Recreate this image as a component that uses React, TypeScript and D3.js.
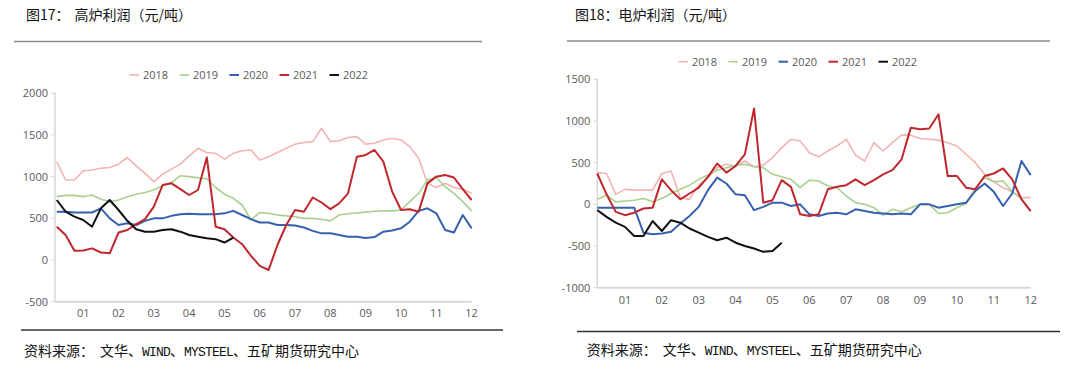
import React from 'react'
import * as d3 from 'd3'

// weekly-ish sampling positions, in months (0.25 = first week of Jan)
const months = d3.range(1, 49).map(i => i / 4)
const monthLabels = ['01', '02', '03', '04', '05', '06', '07', '08', '09', '10', '11', '12']
const years = ['2018', '2019', '2020', '2021', '2022']

// 图17 高炉利润 (元/吨)
const bf2018 = [1180, 960, 960, 1070, 1080, 1100, 1110, 1150, 1230, 1130, 1040, 940, 1030, 1090, 1150, 1250, 1340, 1290, 1280, 1210, 1280, 1310, 1320, 1200, 1240, 1290, 1340, 1390, 1410, 1420, 1580, 1420, 1430, 1470, 1480, 1390, 1400, 1440, 1460, 1440, 1360, 1220, 920, 870, 920, 870, 850, 800]
const bf2019 = [760, 775, 775, 760, 780, 730, 700, 720, 760, 790, 810, 840, 890, 930, 1010, 1000, 985, 975, 870, 790, 740, 660, 480, 570, 560, 540, 530, 520, 500, 500, 490, 470, 540, 555, 565, 575, 585, 590, 590, 600, 700, 800, 960, 990, 880, 800, 700, 590]
const bf2020 = [580, 580, 570, 570, 570, 620, 500, 420, 440, 420, 470, 500, 500, 530, 550, 555, 550, 550, 550, 560, 590, 540, 490, 450, 450, 420, 420, 415, 390, 350, 320, 320, 300, 280, 280, 265, 275, 340, 355, 380, 460, 590, 620, 560, 360, 330, 540, 380]
const bf2021 = [400, 300, 110, 115, 140, 90, 80, 330, 360, 430, 490, 640, 900, 920, 850, 780, 840, 1230, 400, 370, 270, 190, 50, -70, -120, 180, 420, 600, 580, 750, 690, 610, 680, 800, 1240, 1260, 1320, 1180, 820, 600, 610, 580, 920, 1000, 1020, 990, 850, 720]
const bf2022 = [720, 580, 520, 480, 400, 620, 720, 600, 470, 370, 340, 340, 360, 370, 340, 300, 280, 260, 250, 210, 270]

// 图18 电炉利润 (元/吨)
const eaf2018 = [380, 370, 120, 180, 170, 170, 170, 370, 400, 80, 60, 230, 320, 440, 480, 460, 520, 450, 470, 560, 680, 780, 760, 620, 570, 640, 700, 780, 590, 520, 740, 640, 740, 830, 830, 790, 780, 770, 740, 700, 600, 500, 360, 270, 200, 150, 80, 80]
const eaf2019 = [60, 110, 30, 40, 50, 70, 30, 70, 130, 180, 230, 300, 350, 410, 440, 470, 480, 450, 440, 360, 330, 300, 200, 290, 280, 220, 200, 100, 20, 0, -40, -130, -60, -90, -40, 0, 0, -110, -100, -40, 10, 200, 320, 270, 280, 150, 70, -80]
const eaf2020 = [-40, -40, -40, -40, -40, -340, -360, -350, -330, -230, -140, -30, 170, 320, 250, 120, 110, -70, -30, 20, 20, -20, 0, -120, -140, -110, -100, -120, -60, -80, -100, -110, -120, -110, -120, 0, 0, -40, -20, 0, 20, 160, 250, 150, -20, 130, 520, 350]
const eaf2021 = [370, 120, -90, -130, -100, -50, -40, 300, 170, 60, 130, 200, 330, 490, 380, 460, 600, 1150, 20, 50, 290, 210, -120, -140, -120, 180, 210, 230, 300, 230, 290, 360, 410, 540, 920, 900, 910, 1080, 340, 340, 200, 180, 340, 370, 430, 300, 60, -80]
const eaf2022 = [-70, -150, -220, -270, -380, -380, -200, -320, -190, -220, -290, -340, -390, -430, -400, -460, -500, -530, -570, -560, -460]

const colors = ['#f4b3b3', '#a9d18e', '#3561ad', '#c0272d', '#111111']
const widths = [1.6, 1.6, 2, 2, 2]

const cjk = '"Noto Sans CJK SC", sans-serif'
const num = '"Open Sans", sans-serif'
const mono = '"Liberation Mono", monospace'

const panels = [
  {
    title: '图17：',
    titleRest: '高炉利润（元/吨）',
    titleX: 26,
    restDx: 5,
    topRule: [14, 482, 41.5],
    footRule: [21, 503, 330],
    footX: 24,
    footY: 356,
    tStart: 0.2,
    left: 55,
    right: 471.6,
    top: 93.3,
    bottom: 301.7,
    yDomain: [-500, 2000],
    yTicks: [-500, 0, 500, 1000, 1500, 2000],
    labelY: 317,
    legendX: 129.5,
    legendY: 75,
    series: [bf2018, bf2019, bf2020, bf2021, bf2022],
  },
  {
    title: '图18：',
    titleRest: '电炉利润（元/吨）',
    titleX: 575,
    restDx: 0,
    topRule: [567, 1050, 41],
    footRule: [577, 1060, 331.5],
    footX: 586.7,
    footY: 355,
    tStart: 0.25,
    left: 597.3,
    right: 1030.7,
    top: 79.3,
    bottom: 287.7,
    yDomain: [-1000, 1500],
    yTicks: [-1000, -500, 0, 500, 1000, 1500],
    labelY: 304,
    legendX: 678.5,
    legendY: 61.7,
    series: [eaf2018, eaf2019, eaf2020, eaf2021, eaf2022],
  },
]

function Panel({ p }: { p: any }) {
  const x = d3.scaleLinear().domain([p.tStart, 12]).range([p.left, p.right])
  const y = d3.scaleLinear().domain(p.yDomain).range([p.bottom, p.top])
  const line = d3
    .line<number>()
    .x((_, i) => x(months[i]))
    .y(v => y(v))

  return (
    <g>
      <text x={p.titleX} y={20} fontSize={14} fontFamily={cjk} fill="#111">
        {p.title}
        <tspan dx={p.restDx}>{p.titleRest}</tspan>
      </text>
      <line x1={p.topRule[0]} x2={p.topRule[1]} y1={p.topRule[2]} y2={p.topRule[2]} stroke="#8a8a8a" strokeWidth={1.6} />

      {years.map((yr, i) => (
        <g key={yr} transform={`translate(${p.legendX + i * 50},${p.legendY})`}>
          <line x1={0} x2={9.5} y1={0} y2={0} stroke={colors[i]} strokeWidth={widths[i]} />
          <text x={13.5} y={4} fontSize={11} fontFamily={num} fill="#595959">
            {yr}
          </text>
        </g>
      ))}

      {/* y axis */}
      <line x1={p.left} x2={p.left} y1={p.top - 1} y2={p.bottom} stroke="#d9d9d9" strokeWidth={1.5} />
      {p.yTicks.map((t: number) => (
        <g key={t}>
          <line x1={p.left - 4} x2={p.left} y1={y(t)} y2={y(t)} stroke="#d9d9d9" strokeWidth={1} />
          <text x={p.left - 7} y={y(t) + 4} textAnchor="end" fontSize={11} fontFamily={num} fill="#595959">
            {t}
          </text>
        </g>
      ))}

      {/* x axis */}
      <line x1={p.left} x2={p.right} y1={p.bottom} y2={p.bottom} stroke="#d9d9d9" strokeWidth={2} />
      {monthLabels.map((m, i) => (
        <text key={m} x={x(i + 1)} y={p.labelY} textAnchor="middle" fontSize={11} fontFamily={num} fill="#595959">
          {m}
        </text>
      ))}

      {p.series.map((s: number[], i: number) => (
        <path
          key={years[i]}
          d={line(s) || ''}
          fill="none"
          stroke={colors[i]}
          strokeWidth={widths[i]}
          strokeLinejoin="round"
        />
      ))}

      <line x1={p.footRule[0]} x2={p.footRule[1]} y1={p.footRule[2]} y2={p.footRule[2]} stroke="#333" strokeWidth={1.3} />
      <text x={p.footX} y={p.footY} fontSize={14} fontFamily={cjk} fill="#111">
        资料来源：
        <tspan dx={6}>文华、</tspan>
        <tspan fontFamily={mono} fontSize={13} letterSpacing={-0.8}>WIND</tspan>、
        <tspan fontFamily={mono} fontSize={13} letterSpacing={-0.8}>MYSTEEL</tspan>
        、五矿期货研究中心
      </text>
    </g>
  )
}

export default function App() {
  return (
    <svg width={1080} height={369} style={{ position: 'fixed', left: 0, top: 0 }}>
      <rect width={1080} height={369} fill="#fff" />
      {panels.map(p => (
        <Panel key={p.title} p={p} />
      ))}
    </svg>
  )
}
